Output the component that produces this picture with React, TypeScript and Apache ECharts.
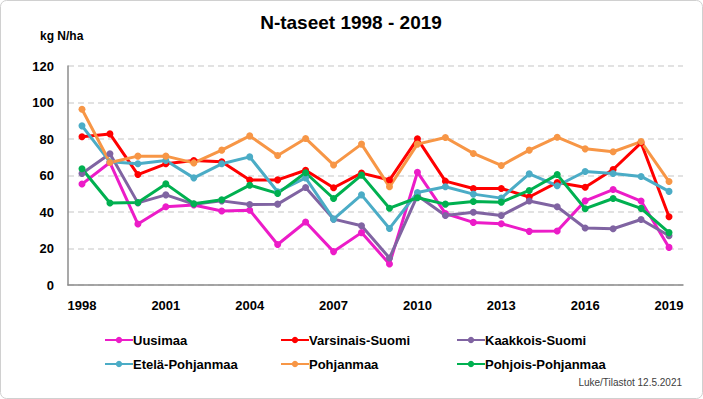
import React, { useEffect, useRef } from "react";
import * as echarts from "echarts";

const years = ["1998","1999","2000","2001","2002","2003","2004","2005","2006","2007","2008","2009","2010","2011","2012","2013","2014","2015","2016","2017","2018","2019"];
const uusimaa = [55.3,67.1,33.4,42.9,43.8,40.5,41.0,22.2,34.5,18.3,28.7,11.5,61.8,39.2,34.3,33.6,29.4,29.6,46.1,52.3,46.0,20.6];
const varsinaisSuomi = [81.2,82.8,60.5,66.4,68.2,67.5,57.5,57.6,62.9,53.3,61.3,57.5,80.1,56.9,52.9,52.9,48.2,56.2,53.6,63.3,77.9,37.4];
const kaakkoisSuomi = [61.1,71.9,45.0,49.4,44.3,46.1,44.1,44.3,53.4,36.1,32.5,14.8,49.0,38.1,39.9,38.1,46.0,42.9,31.2,30.8,35.9,27.0];
const etelaPohjanmaa = [87.2,67.5,66.4,68.2,58.7,66.4,70.2,51.1,58.7,36.1,49.4,31.0,50.7,53.8,49.8,47.6,60.9,54.4,62.2,61.1,59.5,51.3];
const pohjanmaa = [96.3,67.1,70.6,70.6,66.9,73.9,81.7,71.0,80.3,65.8,77.2,53.8,77.2,80.8,72.1,65.5,73.9,81.0,74.6,73.0,78.6,56.7];
const pohjoisPohjanmaa = [63.7,44.9,45.2,55.4,44.5,46.7,54.7,50.2,61.5,47.4,60.2,42.1,47.8,44.3,45.8,45.4,51.8,60.5,41.8,47.4,42.0,28.7];

const seriesDefs = [
  { name: "Uusimaa", data: uusimaa, color: "#EC1CC8" },
  { name: "Varsinais-Suomi", data: varsinaisSuomi, color: "#FF0000" },
  { name: "Kaakkois-Suomi", data: kaakkoisSuomi, color: "#8064A2" },
  { name: "Etelä-Pohjanmaa", data: etelaPohjanmaa, color: "#4BACC6" },
  { name: "Pohjanmaa", data: pohjanmaa, color: "#F79646" },
  { name: "Pohjois-Pohjanmaa", data: pohjoisPohjanmaa, color: "#00B050" },
];

const FONT = "'Liberation Sans', Arial, sans-serif";

export default function App() {
  const ref = useRef<HTMLDivElement>(null);
  useEffect(() => {
    if (!ref.current) return;
    const chart = echarts.init(ref.current, null, { renderer: "svg" });
    const legendCommon = {
      orient: "vertical",
      top: 333,
      itemGap: 10,
      itemWidth: 28,
      itemHeight: 8,
      padding: 0,
      textStyle: { fontFamily: FONT, fontSize: 13, fontWeight: "bold", color: "#000", lineHeight: 14, padding: [0, 0, 0, -5] },
    };
    chart.setOption({
      animation: false,
      backgroundColor: "#fff",
      title: {
        text: "N-taseet 1998 - 2019",
        left: 351,
        textAlign: "center",
        top: 13,
        padding: 0,
        textStyle: { fontFamily: FONT, fontSize: 19, fontWeight: "bold", color: "#000" },
      },
      graphic: [
        { type: "rect", shape: { x: 0.5, y: 0.5, width: 702, height: 398, r: 6 }, style: { fill: "none", stroke: "#d0d0d0", lineWidth: 1 } },
        { type: "text", x: 40, y: 30, style: { text: "kg N/ha", fontFamily: FONT, fontSize: 12, fontWeight: "bold", fill: "#000" } },
        { type: "text", right: 21, top: 377, style: { text: "Luke/Tilastot 12.5.2021", fontFamily: FONT, fontSize: 10, fill: "#404040" } },
      ],
      legend: [
        { ...legendCommon, left: 104, data: ["Uusimaa", "Etelä-Pohjanmaa"] },
        { ...legendCommon, left: 280, data: ["Varsinais-Suomi", "Pohjanmaa"] },
        { ...legendCommon, left: 456, data: ["Kaakkois-Suomi", "Pohjois-Pohjanmaa"] },
      ],
      grid: { left: 68, right: 20, top: 66, bottom: 114 },
      xAxis: {
        type: "category",
        data: years,
        boundaryGap: true,
        axisLine: { lineStyle: { color: "#8c8c8c", width: 1.5 } },
        axisTick: { show: false },
        axisLabel: { interval: 2, margin: 14, fontFamily: FONT, fontSize: 13, fontWeight: "bold", color: "#000" },
      },
      yAxis: {
        type: "value",
        min: 0,
        max: 120,
        interval: 20,
        axisLine: { show: true, lineStyle: { color: "#8c8c8c", width: 1.5 } },
        axisTick: { show: false },
        splitLine: { lineStyle: { color: "#d9d9d9", type: [6, 4], width: 1.5 } },
        axisLabel: { margin: 14, fontFamily: FONT, fontSize: 13, fontWeight: "bold", color: "#000" },
      },
      series: seriesDefs.map((s) => ({
        name: s.name,
        type: "line",
        data: s.data,
        color: s.color,
        symbol: "circle",
        symbolSize: 7,
        lineStyle: { width: 3, color: s.color },
        itemStyle: { color: s.color },
      })),
    });
    return () => chart.dispose();
  }, []);
  return <div ref={ref} style={{ position: "fixed", left: 0, top: 0, width: 703, height: 399 }} />;
}
